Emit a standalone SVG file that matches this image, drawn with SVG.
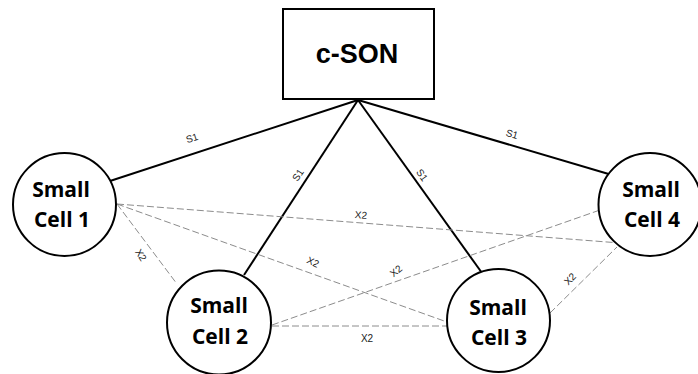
<svg xmlns="http://www.w3.org/2000/svg" width="698" height="374" viewBox="0 0 698 374">
<style>
.node{fill:#fff;stroke:#000;stroke-width:2}
.cell{font-family:"Open Sans","Liberation Sans",sans-serif;font-weight:700;font-size:21px;fill:#000;text-anchor:middle}
.title{font-family:"Liberation Sans",Arial,sans-serif;font-weight:700;font-size:27px;fill:#000;text-anchor:middle}
.s1{stroke:#000;stroke-width:2;fill:none}
.x2{stroke:#8c8c8c;stroke-width:1;stroke-dasharray:7,3;fill:none}
.lbl{font-family:"Liberation Sans",Arial,sans-serif;font-size:10px;fill:#222;text-anchor:middle;dominant-baseline:central}
</style>
<rect width="698" height="374" fill="#fff"/>
<g id="connectors">
  <line class="s1" x1="358" y1="100" x2="110" y2="181"/>
  <line class="s1" x1="358" y1="100" x2="244" y2="275"/>
  <line class="s1" x1="358" y1="100" x2="482" y2="273"/>
  <line class="s1" x1="358" y1="100" x2="612" y2="175"/>
  <line class="x2" x1="117" y1="204" x2="177" y2="284"/>
  <line class="x2" x1="117" y1="204" x2="620" y2="243"/>
  <line class="x2" x1="117" y1="204" x2="447" y2="322"/>
  <line class="x2" x1="272" y1="325" x2="600" y2="210"/>
  <line class="x2" x1="272" y1="326" x2="447" y2="326"/>
  <line class="x2" x1="550" y1="313" x2="617" y2="247"/>
  <text class="lbl" transform="translate(192,138) rotate(-18)">S1</text>
  <text class="lbl" transform="translate(298,175) rotate(-57)">S1</text>
  <text class="lbl" transform="translate(422,175) rotate(55)">S1</text>
  <text class="lbl" transform="translate(512,134) rotate(16)">S1</text>
  <text class="lbl" transform="translate(141,255) rotate(58)">X2</text>
  <text class="lbl" transform="translate(361,215) rotate(5)">X2</text>
  <text class="lbl" transform="translate(313,262) rotate(25)">X2</text>
  <text class="lbl" transform="translate(396,271) rotate(-40)">X2</text>
  <text class="lbl" transform="translate(367,338)">X2</text>
  <text class="lbl" transform="translate(570,279) rotate(-45)">X2</text>
</g>
<g id="cson">
  <rect class="node" x="283" y="9" width="151" height="90"/>
  <text class="title" x="357" y="63">c-SON</text>
</g>
<g id="cell1">
  <circle class="node" cx="64.5" cy="204.5" r="51.5"/>
  <text class="cell" x="61" y="197">Small</text>
  <text class="cell" x="62" y="227">Cell 1</text>
</g>
<g id="cell2">
  <circle class="node" cx="219" cy="322.5" r="52"/>
  <text class="cell" x="219" y="313">Small</text>
  <text class="cell" x="220" y="344">Cell 2</text>
</g>
<g id="cell3">
  <circle class="node" cx="498.5" cy="320.5" r="51.5"/>
  <text class="cell" x="498" y="315">Small</text>
  <text class="cell" x="499" y="345">Cell 3</text>
</g>
<g id="cell4">
  <circle class="node" cx="650" cy="204.5" r="51.5"/>
  <text class="cell" x="651" y="197">Small</text>
  <text class="cell" x="652" y="227">Cell 4</text>
</g>
</svg>
